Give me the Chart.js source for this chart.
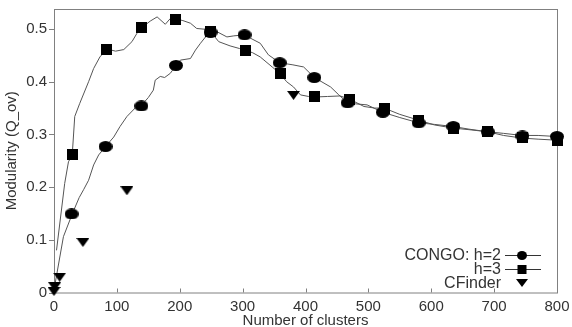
<!DOCTYPE html>
<html>
<head>
<meta charset="utf-8">
<script src="https://cdn.jsdelivr.net/npm/chart.js@4.4.1/dist/chart.umd.min.js"></script>
<style>
  html, body { margin: 0; padding: 0; background: #fff; }
  #wrap { width: 572px; height: 327px; }
</style>
</head>
<body>
<div id="wrap"><canvas id="chart" width="572" height="327"></canvas></div>
<script>
// tick labels
const xTicks = [0, 100, 200, 300, 400, 500, 600, 700, 800];
const yTicks = [0, 0.1, 0.2, 0.3, 0.4, 0.5];

// CONGO h=2 markers
const congo2X = [28, 82, 139, 194, 249, 303, 359, 414, 467, 523, 580, 635, 690, 745, 800];
const congo2Y = [0.149, 0.277, 0.354, 0.431, 0.494, 0.489, 0.436, 0.408, 0.360, 0.342, 0.322, 0.315, 0.305, 0.297, 0.296];
// CONGO h=2 curve
const congo2LineX = [0, 15, 29, 40, 47, 55, 63, 71, 82, 95, 105, 116, 129, 139, 150, 158, 161, 169, 176, 185, 194, 201, 217, 225, 233, 241, 249, 259, 275, 286, 303, 315, 328, 341, 359, 380, 397, 414, 440, 453, 467, 480, 498, 523, 550, 580, 605, 635, 660, 690, 715, 745, 770, 800];
const congo2LineY = [0.005, 0.106, 0.149, 0.18, 0.195, 0.213, 0.242, 0.261, 0.277, 0.295, 0.315, 0.334, 0.35, 0.355, 0.37, 0.384, 0.403, 0.41, 0.408, 0.416, 0.431, 0.441, 0.444, 0.46, 0.473, 0.485, 0.494, 0.495, 0.485, 0.487, 0.489, 0.481, 0.473, 0.451, 0.436, 0.432, 0.428, 0.408, 0.39, 0.375, 0.36, 0.358, 0.356, 0.342, 0.332, 0.322, 0.319, 0.315, 0.31, 0.305, 0.302, 0.298, 0.298, 0.296];

// h=3 markers
const congo3X = [29, 84, 139, 194, 249, 304, 360, 415, 470, 525, 580, 635, 690, 745, 800];
const congo3Y = [0.261, 0.462, 0.502, 0.519, 0.495, 0.460, 0.415, 0.372, 0.367, 0.350, 0.327, 0.312, 0.305, 0.294, 0.289];
// h=3 curve
const congo3LineX = [4, 17, 23, 29, 33, 41, 55, 63, 73, 84, 98, 111, 124, 132, 139, 153, 164, 177, 185, 194, 205, 217, 227, 241, 249, 262, 280, 295, 304, 316, 328, 347, 360, 370, 381, 392, 405, 415, 435, 455, 470, 493, 510, 525, 550, 580, 605, 635, 660, 690, 715, 745, 770, 800];
const congo3LineY = [0.080, 0.207, 0.248, 0.261, 0.334, 0.359, 0.40, 0.425, 0.447, 0.462, 0.458, 0.461, 0.476, 0.492, 0.502, 0.515, 0.523, 0.509, 0.52, 0.519, 0.516, 0.511, 0.501, 0.4995, 0.495, 0.476, 0.468, 0.463, 0.46, 0.455, 0.447, 0.428, 0.415, 0.40, 0.39, 0.375, 0.372, 0.371, 0.372, 0.373, 0.367, 0.353, 0.35, 0.35, 0.338, 0.327, 0.318, 0.312, 0.309, 0.305, 0.298, 0.293, 0.291, 0.289];

// CFinder
const cfinderX = [0, 1, 9, 46, 116, 381];
const cfinderY = [0.002, 0.011, 0.029, 0.095, 0.193, 0.374];

const pts = (xs, ys) => xs.map((x, i) => ({ x: x, y: ys[i] }));

// marker images
function makeMarker(kind, w, h) {
  const c = document.createElement('canvas');
  c.width = w; c.height = h;
  const g = c.getContext('2d');
  g.fillStyle = '#000';
  g.beginPath();
  if (kind === 'ellipse') {
    g.ellipse(w / 2, h / 2, w / 2, h / 2, 0, 0, Math.PI * 2);
  } else if (kind === 'square') {
    g.rect(0, 0, w, h);
  } else {
    g.moveTo(0, 0); g.lineTo(w, 0); g.lineTo(w / 2, h); g.closePath();
  }
  g.fill();
  return c;
}
const ellipseImg = makeMarker('ellipse', 14, 11);
const squareImg = makeMarker('square', 11, 11);
const triImg = makeMarker('tri', 13, 9);

const FONT = "'Liberation Sans', Arial, sans-serif";
const TEXT = '#333';
const AXIS = '#808080';

// box + tick marks like the gnuplot frame
const framePlugin = {
  id: 'frame',
  beforeDatasetsDraw(chart) {
    const { ctx, chartArea: a, scales } = chart;
    ctx.save();
    ctx.strokeStyle = AXIS;
    ctx.lineWidth = 1;
    ctx.strokeRect(a.left + 0.5, a.top + 0.5, a.right - a.left, a.bottom - a.top);
    ctx.beginPath();
    xTicks.forEach(v => {
      const px = Math.round(scales.x.getPixelForValue(v)) + 0.5;
      ctx.moveTo(px, a.bottom); ctx.lineTo(px, a.bottom - 4);
    });
    yTicks.forEach(v => {
      const py = Math.round(scales.y.getPixelForValue(v)) + 0.5;
      ctx.moveTo(a.left, py); ctx.lineTo(a.left - 5, py);
    });
    ctx.stroke();
    ctx.restore();
  }
};

// legend in the lower right corner
const legendRows = ['CONGO: h=2', 'h=3', 'CFinder'];
const legendPlugin = {
  id: 'cornerLegend',
  afterDatasetsDraw(chart) {
    const { ctx } = chart;
    const textRight = 501, lineL = 505, lineR = 541, mx = 522;
    const rowY = [255, 269, 283];
    ctx.save();
    ctx.font = '16px ' + FONT;
    ctx.fillStyle = TEXT;
    ctx.textAlign = 'right';
    ctx.textBaseline = 'middle';
    legendRows.forEach((t, i) => ctx.fillText(t, textRight, rowY[i] + 1));
    ctx.strokeStyle = '#333';
    ctx.lineWidth = 1;
    ctx.beginPath();
    ctx.moveTo(lineL, rowY[0] + 0.5); ctx.lineTo(lineR, rowY[0] + 0.5);
    ctx.moveTo(lineL, rowY[1] + 0.5); ctx.lineTo(lineR, rowY[1] + 0.5);
    ctx.stroke();
    ctx.fillStyle = '#000';
    ctx.beginPath();
    ctx.ellipse(mx, rowY[0] + 0.5, 5, 4.5, 0, 0, Math.PI * 2);
    ctx.fill();
    ctx.fillRect(mx - 4.5, rowY[1] - 4, 9, 9);
    ctx.beginPath();
    ctx.moveTo(mx - 6, rowY[2] - 4); ctx.lineTo(mx + 6, rowY[2] - 4); ctx.lineTo(mx, rowY[2] + 4);
    ctx.closePath();
    ctx.fill();
    ctx.restore();
  }
};

const lineStyle = { showLine: true, borderColor: '#555', borderWidth: 1, pointRadius: 0, tension: 0, fill: false };

new Chart(document.getElementById('chart'), {
  type: 'scatter',
  data: {
    datasets: [
      { label: 'CONGO: h=2', data: pts(congo2X, congo2Y), pointStyle: ellipseImg, showLine: false, order: 0 },
      { label: 'h=3', data: pts(congo3X, congo3Y), pointStyle: squareImg, showLine: false, order: 0 },
      { label: 'CFinder', data: pts(cfinderX, cfinderY), pointStyle: triImg, showLine: false, order: 0 },
      Object.assign({ label: 'h2 curve', data: pts(congo2LineX, congo2LineY), order: 1 }, lineStyle),
      Object.assign({ label: 'h3 curve', data: pts(congo3LineX, congo3LineY), order: 1 }, lineStyle)
    ]
  },
  options: {
    responsive: false,
    animation: false,
    events: [],
    clip: false,
    layout: { padding: { top: 9, right: 15, left: 0, bottom: 0 } },
    plugins: { legend: { display: false }, tooltip: { enabled: false } },
    scales: {
      x: {
        type: 'linear', min: 0, max: 800, bounds: 'data',
        grid: { display: false, drawTicks: false },
        border: { display: false },
        afterBuildTicks: s => { s.ticks = xTicks.map(v => ({ value: v })); },
        afterFit: s => { s.height = 34.5; s.paddingRight = 0; },
        ticks: { color: TEXT, font: { family: FONT, size: 15 }, padding: 5, maxRotation: 0, includeBounds: false, callback: v => String(v) },
        title: { display: true, text: 'Number of clusters', color: TEXT, font: { family: FONT, size: 15, lineHeight: 1 }, padding: { top: 0, bottom: -1 } }
      },
      y: {
        type: 'linear', min: 0, max: 0.538, bounds: 'data',
        grid: { display: false, drawTicks: false },
        border: { display: false },
        afterBuildTicks: s => { s.ticks = yTicks.map(v => ({ value: v })); },
        afterFit: s => { s.width = 54; s.paddingTop = 0; s.paddingBottom = 0; },
        ticks: { color: TEXT, font: { family: FONT, size: 15 }, padding: 7, includeBounds: false, callback: v => String(v) },
        title: { display: true, text: 'Modularity (Q_ov)', color: TEXT, font: { family: FONT, size: 15, lineHeight: 1 }, padding: { top: 4, bottom: 0 } }
      }
    }
  },
  plugins: [framePlugin, legendPlugin]
});
</script>
</body>
</html>
